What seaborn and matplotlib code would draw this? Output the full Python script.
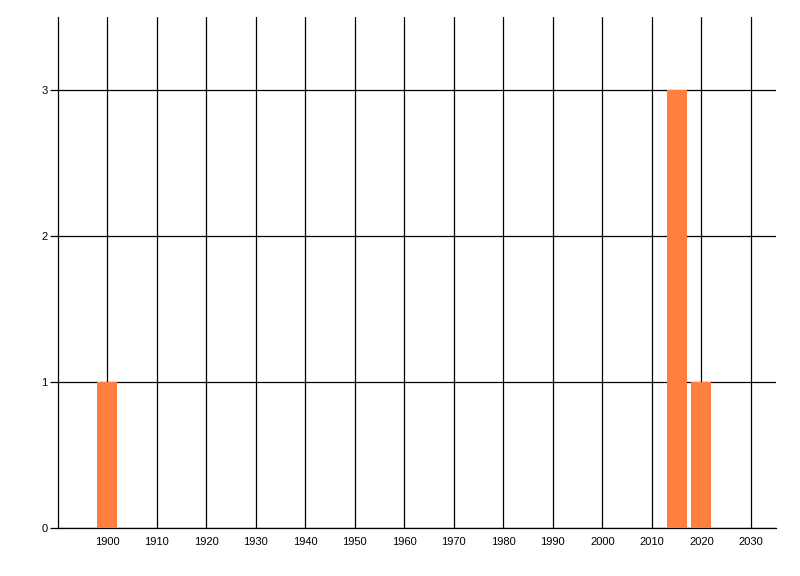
import matplotlib
matplotlib.use("Agg")
import matplotlib.pyplot as plt
import seaborn as sns

years = [1900, 2015, 2020]
counts = [1, 3, 1]
x_ticks = list(range(1900, 2031, 10))
y_ticks = [0, 1, 2, 3]

sns.set_style("white")
plt.rcParams["font.family"] = ["Liberation Sans", "DejaVu Sans"]

fig = plt.figure(figsize=(8, 5.76), dpi=100)
ax = fig.add_axes([0.0719, 0.0828, 0.8977, 0.8877])

sns.barplot(x=years, y=counts, native_scale=True, color="#FF7F40",
            saturation=1, width=0.8, linewidth=0, ax=ax, zorder=3)

ax.set_xlim(1890, 2035)
ax.set_ylim(0, 3.5)
ax.set_xticks(x_ticks)
ax.set_xticklabels([str(t) for t in x_ticks])
ax.set_yticks(y_ticks)

ax.grid(True, color="black", linewidth=0.9, zorder=1)
ax.set_axisbelow(True)
for s in ["top", "right"]:
    ax.spines[s].set_visible(False)
for s in ["left", "bottom"]:
    ax.spines[s].set_color("black")
    ax.spines[s].set_linewidth(0.9)

ax.tick_params(axis="x", length=0, pad=6, labelsize=8, colors="black")
ax.tick_params(axis="y", length=6, width=0.9, pad=1, labelsize=8, colors="black", left=True)
ax.set_xlabel("")
ax.set_ylabel("")

fig.savefig("out.png", dpi=100)
